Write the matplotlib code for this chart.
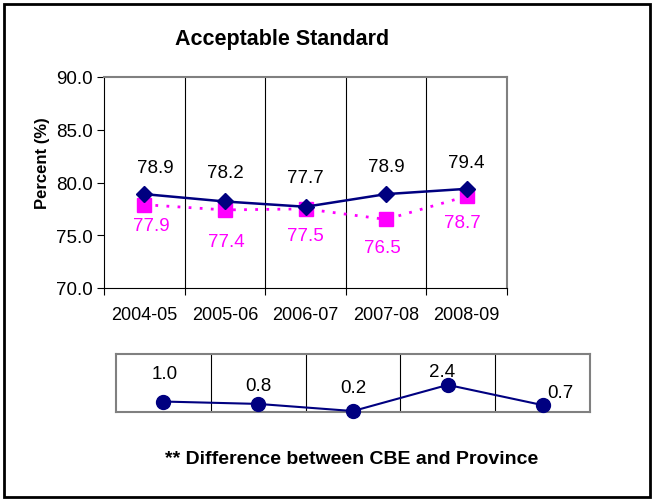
import matplotlib.pyplot as plt
from matplotlib.patches import Rectangle

plt.rcParams['font.family'] = ['Liberation Sans', 'DejaVu Sans']

years = ['2004-05', '2005-06', '2006-07', '2007-08', '2008-09']
cbe = [78.9, 78.2, 77.7, 78.9, 79.4]
province = [77.9, 77.4, 77.5, 76.5, 78.7]
diff = [1.0, 0.8, 0.2, 2.4, 0.7]

NAVY = '#000080'
MAGENTA = '#FF00FF'
GRAY = '#808080'

W, H = 655, 502
fig = plt.figure(figsize=(W / 100, H / 100), dpi=100)


def px_axes(l, t, r, b):
    return fig.add_axes([l / W, (H - b) / H, (r - l) / W, (b - t) / H])


# outer frame
fig.patches.append(Rectangle((4 / W, 4 / H), 646 / W, 493 / H, transform=fig.transFigure,
                             fill=False, edgecolor='black', linewidth=2))

# --- main chart ---
ax = px_axes(104, 78, 507, 289)
x = range(len(years))
ax.plot(x, cbe, color=NAVY, lw=1.8, marker='D', ms=8.5, zorder=4)
ax.plot(x, province, color=MAGENTA, lw=2, ls=(0, (1, 3)), marker='s', ms=10, zorder=3)

for i in range(1, len(years)):
    ax.axvline(i - 0.5, color='black', lw=0.8, zorder=1)

ax.set_xlim(-0.5, len(years) - 0.5)
ax.set_ylim(70, 90)
ax.set_yticks([70, 75, 80, 85, 90])
ax.set_yticklabels([f'{v:.1f}' for v in [70, 75, 80, 85, 90]], fontsize=13.5)
ax.set_xticks([i - 0.5 for i in range(len(years) + 1)])
ax.set_xticklabels([])
ax.set_xticks(list(x), minor=True)
ax.set_xticklabels(years, minor=True, fontsize=13)
ax.tick_params(axis='x', which='minor', length=0, pad=13)
ax.tick_params(axis='both', which='major', direction='out', length=5, width=0.8, color='black')
ax.tick_params(axis='y', pad=3)
for s in ['top', 'right']:
    ax.spines[s].set_color(GRAY)
    ax.spines[s].set_linewidth(1.5)
for s in ['left', 'bottom']:
    ax.spines[s].set_color('black')
    ax.spines[s].set_linewidth(0.8)

cbe_off = [(8, 19), (0, 21), (0, 21), (0, 20), (0, 19)]
prov_off = [(5, -15), (1, -23), (0, -19), (-3, -20), (-3, -19)]
for i, v in enumerate(cbe):
    ax.annotate(f'{v:.1f}', (i, v), xytext=cbe_off[i], textcoords='offset points',
                ha='center', va='center', fontsize=13.5, color='black')
for i, v in enumerate(province):
    ax.annotate(f'{v:.1f}', (i, v), xytext=prov_off[i], textcoords='offset points',
                ha='center', va='center', fontsize=13.5, color=MAGENTA)

fig.text(282 / W, 1 - 40 / H, 'Acceptable Standard', ha='center', va='center',
         fontsize=15.5, fontweight='bold')
fig.text(43 / W, 1 - 163 / H, 'Percent (%)', ha='center', va='center', rotation=90,
         fontsize=12, fontweight='bold')

# --- difference chart ---
ax2 = px_axes(116, 355, 590, 413)
ax2.plot(range(len(diff)), diff, color=NAVY, lw=1.5, marker='o', ms=10, clip_on=False, zorder=4)
for i in range(1, len(diff)):
    ax2.axvline(i - 0.5, color='black', lw=0.8, zorder=1)
ax2.set_xlim(-0.5, len(diff) - 0.5)
ax2.set_ylim(0.12, 5.0)
ax2.set_xticks([])
ax2.set_yticks([])
for s in ax2.spines.values():
    s.set_color(GRAY)
    s.set_linewidth(1.5)

diff_off = [(1, 20), (0, 13), (0, 17), (-4, 10), (13, 9)]
for i, v in enumerate(diff):
    ax2.annotate(f'{v:.1f}', (i, v), xytext=diff_off[i], textcoords='offset points',
                 ha='center', va='center', fontsize=13.5, color='black', zorder=5)

fig.text(352 / W, 1 - 460 / H, '** Difference between CBE and Province', ha='center',
         va='center', fontsize=14, fontweight='bold')

fig.savefig('out.png', dpi=100)
